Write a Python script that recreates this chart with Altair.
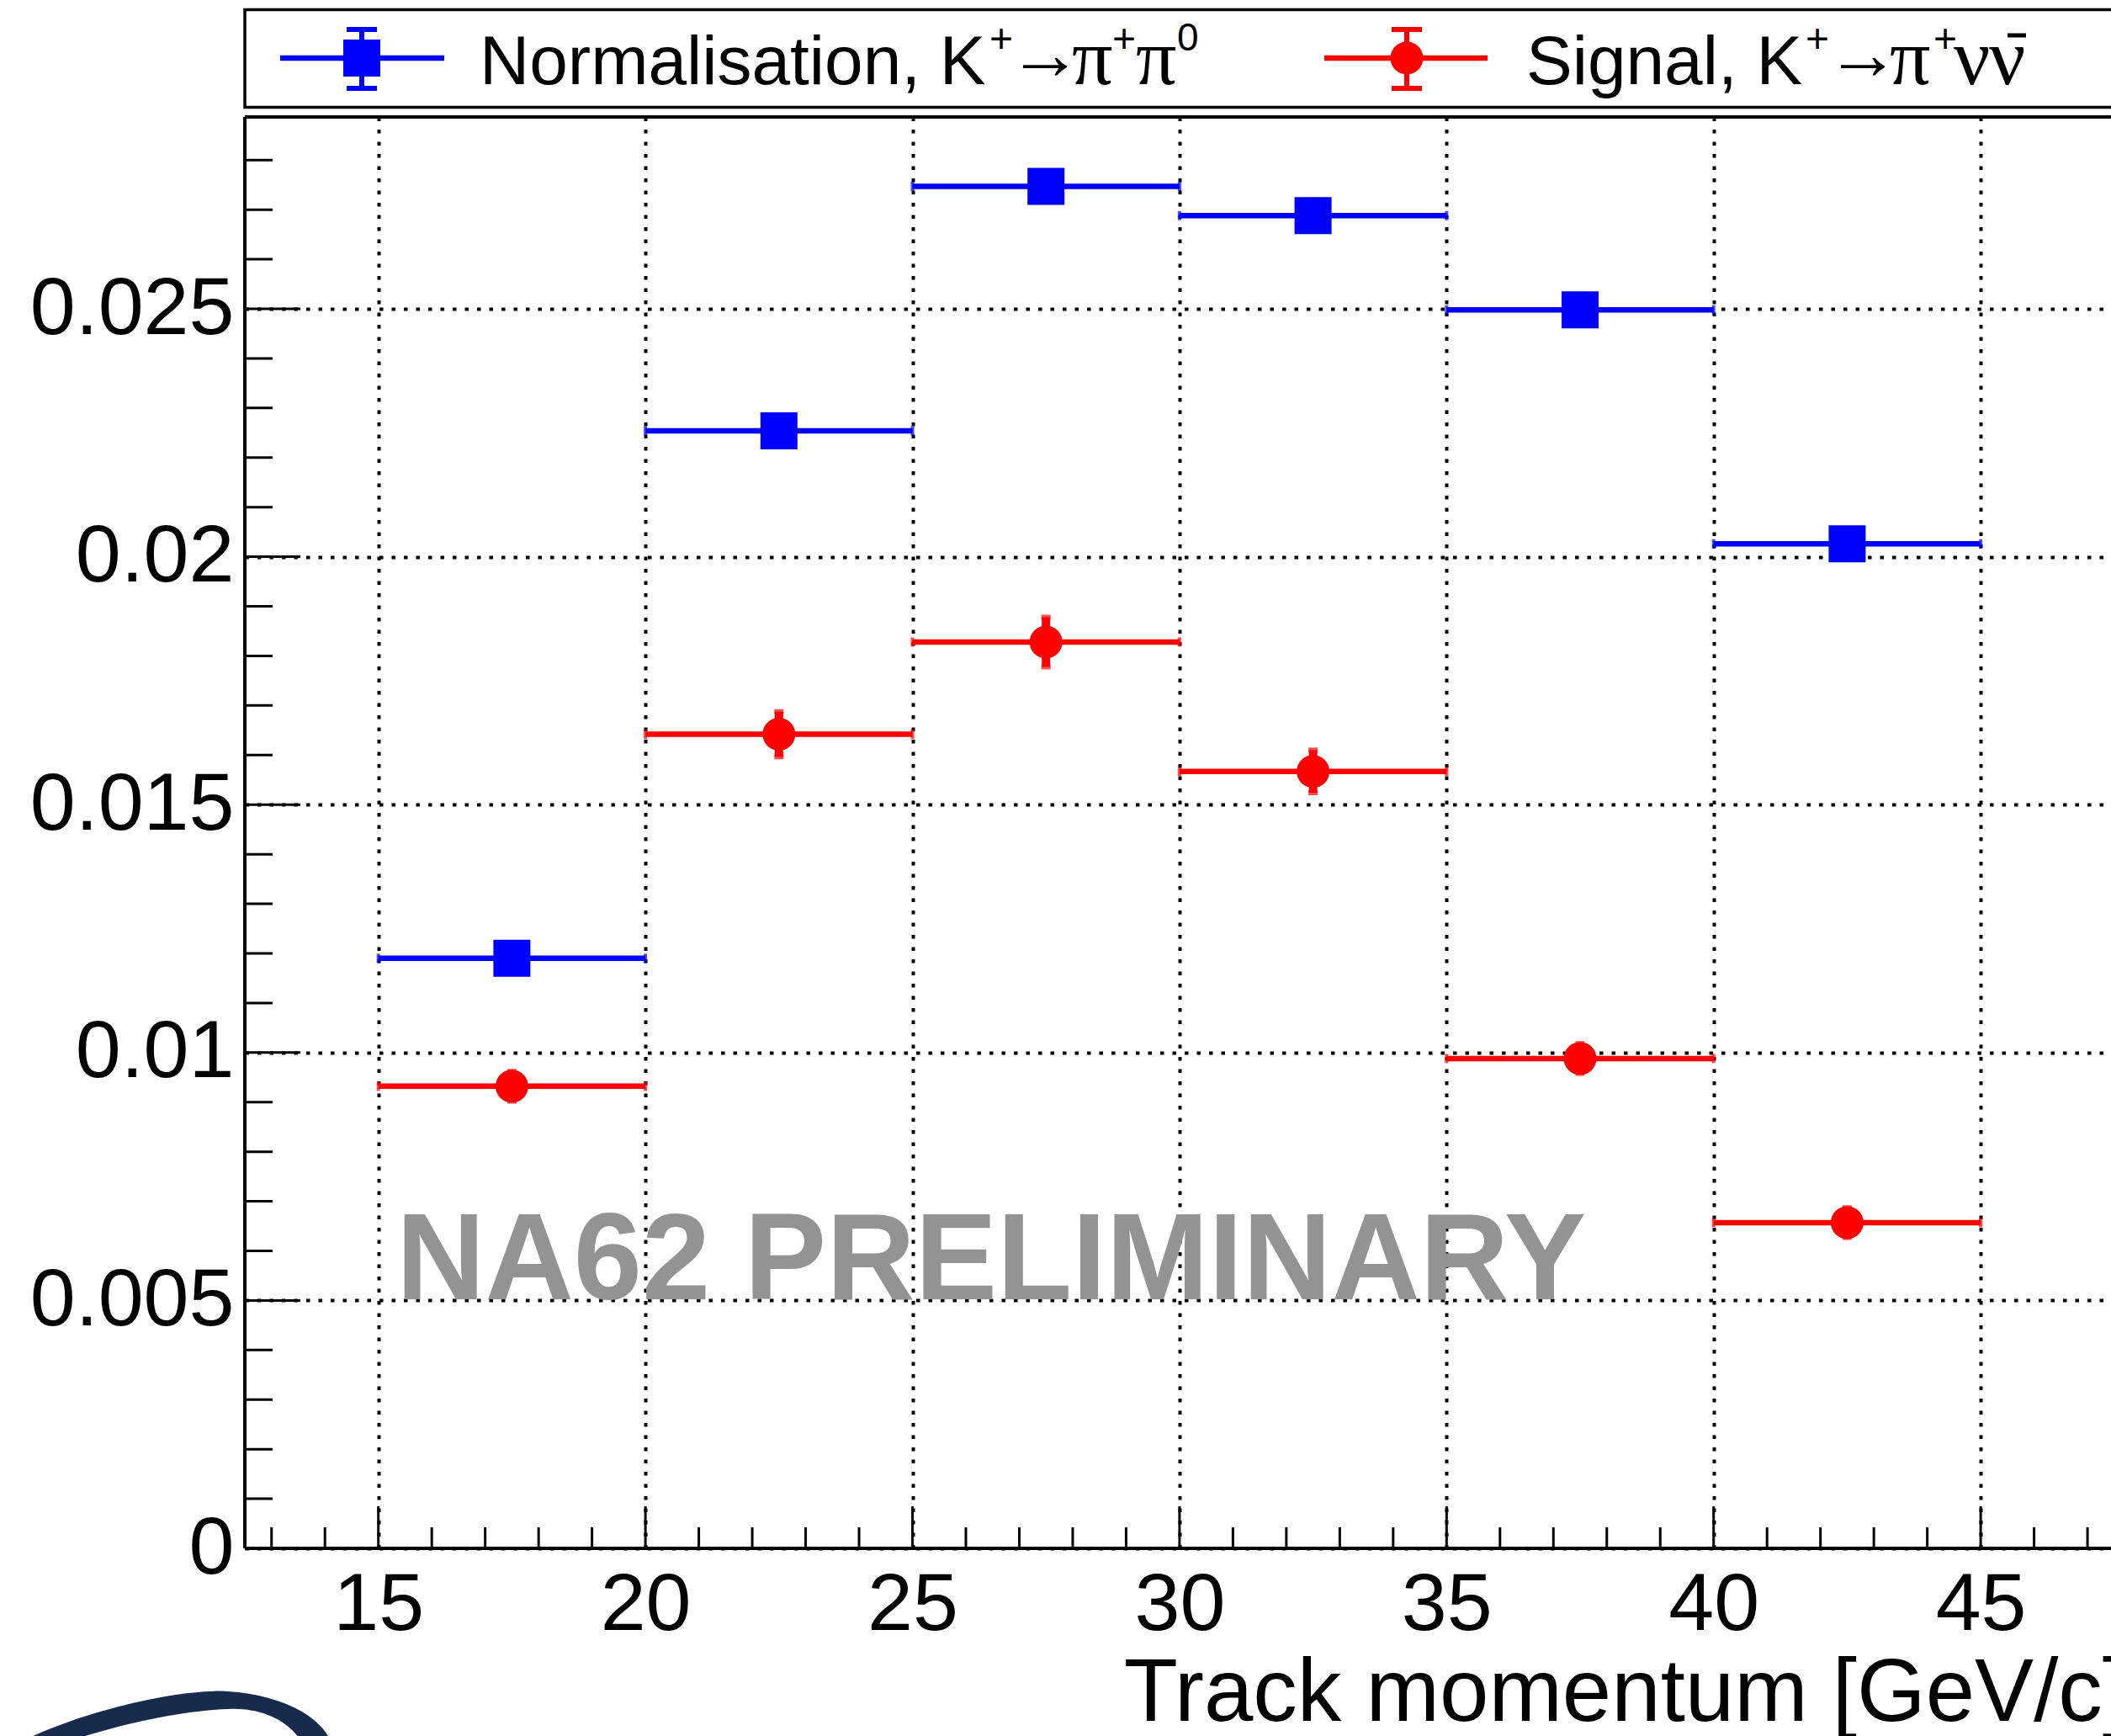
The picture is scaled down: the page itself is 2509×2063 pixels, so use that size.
import altair as alt
import pandas as pd

# ---------------------------------------------------------------- data
# momentum bins [GeV/c]
bin_low = [15, 20, 25, 30, 35, 40]
bin_high = [20, 25, 30, 35, 40, 45]
bin_center = [17.5, 22.5, 27.5, 32.5, 37.5, 42.5]

# normalisation sample K+ -> pi+ pi0
norm_frac = [0.0119, 0.02254, 0.02747, 0.02688, 0.02498, 0.02026]
norm_err = [0.0001, 0.00012, 0.00012, 0.00012, 0.00011, 0.0001]

# signal sample K+ -> pi+ nu nubar
sig_frac = [0.00932, 0.01642, 0.01828, 0.01567, 0.00988, 0.00657]
sig_err = [0.0003, 0.000455, 0.0005, 0.00043, 0.0003, 0.0003]

# axis ticks
x_major = [15, 20, 25, 30, 35, 40, 45]
x_minor = [v for v in range(13, 48) if v % 5 != 0]
y_major = [0.0, 0.005, 0.01, 0.015, 0.02, 0.025]
y_minor = [round(i * 0.001, 3) for i in range(1, 29) if i % 5 != 0]

x_title = "Track momentum [GeV/c]"
watermark = "NA62 PRELIMINARY"

# ---------------------------------------------------------------- layout
LEFT, TOP = 291, 139          # plot-frame origin on the page
W, H = 2218, 1701             # plot-frame size
BOTTOM = 223
X_DOMAIN = [12.5, 47.44]
Y_DOMAIN = [0.0, 0.02887]

BLUE, RED, GREY, NAVY = "#0000ff", "#ff0000", "#939393", "#172b4d"
SANS, SERIF = "Liberation Sans", "Liberation Serif"

SQ_SIZE = 44 * 44              # square marker area
CIRC_SIZE = 3.14159 * 22 * 22  # circle marker area

# ---------------------------------------------------------------- tables
rows = []
for name, vals, errs in (("norm", norm_frac, norm_err), ("sig", sig_frac, sig_err)):
    for lo, hi, c, v, e in zip(bin_low, bin_high, bin_center, vals, errs):
        rows.append(dict(series=name, low=lo, high=hi, center=c, val=v,
                         err_lo=v - e, err_hi=v + e))
df = pd.DataFrame(rows)
one = pd.DataFrame({"k": [0]})

xs = alt.Scale(domain=X_DOMAIN, nice=False, zero=False)
ys = alt.Scale(domain=Y_DOMAIN, nice=False, zero=False)

grid_style = dict(grid=True, gridDash=[4.5, 10], gridColor="black", gridWidth=4,
                  gridOpacity=1, ticks=False, tickSize=0, domain=False, title=None,
                  labelFont=SANS, labelFontSize=97, labelColor="black",
                  labelOverlap=False, labelFlush=False, labelLimit=600)
x_axis = alt.Axis(values=x_major, labelPadding=96, labelBaseline="alphabetic",
                  **grid_style)
y_axis = alt.Axis(values=y_major, format=".3~f", labelPadding=13,
                  labelBaseline="middle", **grid_style)


def X(field):
    return alt.X(field, type="quantitative", scale=xs, axis=x_axis)


def Y(field):
    return alt.Y(field, type="quantitative", scale=ys, axis=y_axis)


col = alt.Color("series:N", scale=alt.Scale(domain=["norm", "sig"], range=[BLUE, RED]),
                legend=None)
base = alt.Chart(df)

# ---------------------------------------------------------------- data marks
hbars = base.mark_rule(strokeWidth=6.5).encode(x=X("low"), x2="high", y=Y("val"), color=col)
hcaps = base.transform_fold(["low", "high"], as_=["edge", "xe"]).mark_tick(
    orient="vertical", size=11, thickness=4).encode(x=X("xe"), y=Y("val"), color=col)
vbars = base.mark_rule(strokeWidth=10).encode(x=X("center"), y=Y("err_lo"), y2="err_hi",
                                              color=col)
vcaps = base.transform_fold(["err_lo", "err_hi"], as_=["end", "ye"]).mark_tick(
    orient="horizontal", size=11, thickness=6).encode(x=X("center"), y=Y("ye"), color=col)
squares = base.transform_filter("datum.series == 'norm'").mark_square(
    size=SQ_SIZE, opacity=1, color=BLUE).encode(x=X("center"), y=Y("val"))
circles = base.transform_filter("datum.series == 'sig'").mark_circle(
    size=CIRC_SIZE, opacity=1, color=RED).encode(x=X("center"), y=Y("val"))

# ---------------------------------------------------------------- frame & ticks
def frame_rule(**enc):
    return alt.Chart(one).mark_rule(color="black", strokeWidth=4).encode(**enc)


frame = [
    frame_rule(x=alt.value(0), y=alt.value(0), y2=alt.value(H)),
    frame_rule(x=alt.value(0), x2=alt.value(W + 20), y=alt.value(H)),
    frame_rule(x=alt.value(0), x2=alt.value(W + 20), y=alt.value(0)),
]

tick_rule = dict(color="black", strokeWidth=3)
xt_major = alt.Chart(pd.DataFrame({"v": x_major})).mark_rule(**tick_rule).encode(
    x=X("v"), y=alt.value(H), y2=alt.value(H - 50))
xt_minor = alt.Chart(pd.DataFrame({"v": x_minor})).mark_rule(**tick_rule).encode(
    x=X("v"), y=alt.value(H), y2=alt.value(H - 25))
yt_major = alt.Chart(pd.DataFrame({"v": y_major})).mark_rule(**tick_rule).encode(
    y=Y("v"), x=alt.value(0), x2=alt.value(66))
yt_minor = alt.Chart(pd.DataFrame({"v": y_minor})).mark_rule(**tick_rule).encode(
    y=Y("v"), x=alt.value(0), x2=alt.value(33))

# ---------------------------------------------------------------- legend
def px(x):
    return alt.value(x - LEFT)


def py(y):
    return alt.value(y - TOP)


legend_box = alt.Chart(one).mark_rect(fill="white", stroke="black", strokeWidth=3.5).encode(
    x=px(LEFT), x2=px(2600), y=py(11.5), y2=py(127.5))

legend_marks = []
for cx, x0, x1, colr, kind in ((430, 333, 528, BLUE, "square"), (1672, 1574, 1768, RED, "circle")):
    legend_marks.append(alt.Chart(one).mark_rule(color=colr, strokeWidth=6.5).encode(
        x=px(x0), x2=px(x1), y=py(69)))
    legend_marks.append(alt.Chart(one).mark_rule(color=colr, strokeWidth=6).encode(
        x=px(cx), y=py(35), y2=py(105)))
    for yc in (35, 105):
        legend_marks.append(alt.Chart(one).mark_rule(color=colr, strokeWidth=6).encode(
            x=px(cx - 18), x2=px(cx + 18), y=py(yc)))
    if kind == "square":
        legend_marks.append(alt.Chart(one).mark_square(size=SQ_SIZE, opacity=1, color=colr)
                            .encode(x=px(cx), y=py(69)))
    else:
        legend_marks.append(alt.Chart(one).mark_circle(size=CIRC_SIZE, opacity=1, color=colr)
                            .encode(x=px(cx), y=py(69)))

# text pieces: (text, left x, baseline y, family, size)
legend_text = [
    ("Normalisation, K", 570, 100, SANS, 82),
    ("+", 1176, 62, SANS, 48),
    ("\u2192", 1198, 94, SANS, 88),
    ("\u03c0", 1274, 100, SERIF, 96),
    ("+", 1322, 62, SANS, 48),
    ("\u03c0", 1350, 100, SERIF, 96),
    ("0", 1399, 60, SANS, 46),
    ("Signal, K", 1814, 100, SANS, 82),
    ("+", 2146, 62, SANS, 48),
    ("\u2192", 2170, 94, SANS, 88),
    ("\u03c0", 2246, 100, SERIF, 96),
    ("+", 2298, 62, SANS, 48),
    ("\u03bd", 2322, 100, SERIF, 96),
    ("\u03bd", 2364, 100, SERIF, 96),
]
legend_texts = [
    alt.Chart(one).mark_text(text=t, font=f, fontSize=s, align="left",
                             baseline="alphabetic", color="black").encode(x=px(x), y=py(y))
    for t, x, y, f, s in legend_text
]
# bar over the anti-neutrino
legend_texts.append(alt.Chart(one).mark_rule(color="black", strokeWidth=5).encode(
    x=px(2386), x2=px(2408), y=py(42)))

# ---------------------------------------------------------------- annotations
mark_wm = alt.Chart(one).mark_text(
    text=watermark, font=SANS, fontWeight="bold", fontSize=146, color=GREY,
    align="left", baseline="alphabetic").encode(x=px(471), y=py(1544))

mark_xtitle = alt.Chart(one).mark_text(
    text=x_title, font=SANS, fontSize=105, color="black",
    align="right", baseline="alphabetic").encode(x=px(2528), y=py(2045))

# experiment logo arc (bottom-left corner)
logo_path = ("M -1.0 0.175 C -0.62 -0.03 0.0 -0.17 0.275 -0.15 "
             "C 0.6 -0.13 0.85 0.0 0.9 0.175 L 0.725 0.175 "
             "C 0.68 0.05 0.5 -0.06 0.275 -0.045 C 0.0 -0.035 -0.4 0.05 -0.75 0.175 Z")
logo = alt.Chart(one).mark_point(shape=logo_path, size=160000, filled=True, opacity=1,
                                 color=NAVY).encode(x=px(215), y=py(2040))

chart = alt.layer(
    mark_wm,
    hbars, hcaps, vbars, vcaps, squares, circles,
    xt_major, xt_minor, yt_major, yt_minor,
    *frame,
    legend_box, *legend_marks, *legend_texts,
    mark_xtitle, logo,
).properties(
    width=W, height=H,
    padding={"left": LEFT, "top": TOP, "right": 0, "bottom": BOTTOM},
    autosize=alt.AutoSizeParams(type="none"),
    background="white",
).configure_view(strokeWidth=0)

chart.save("out.html", embed_options={"renderer": "svg", "actions": False})
